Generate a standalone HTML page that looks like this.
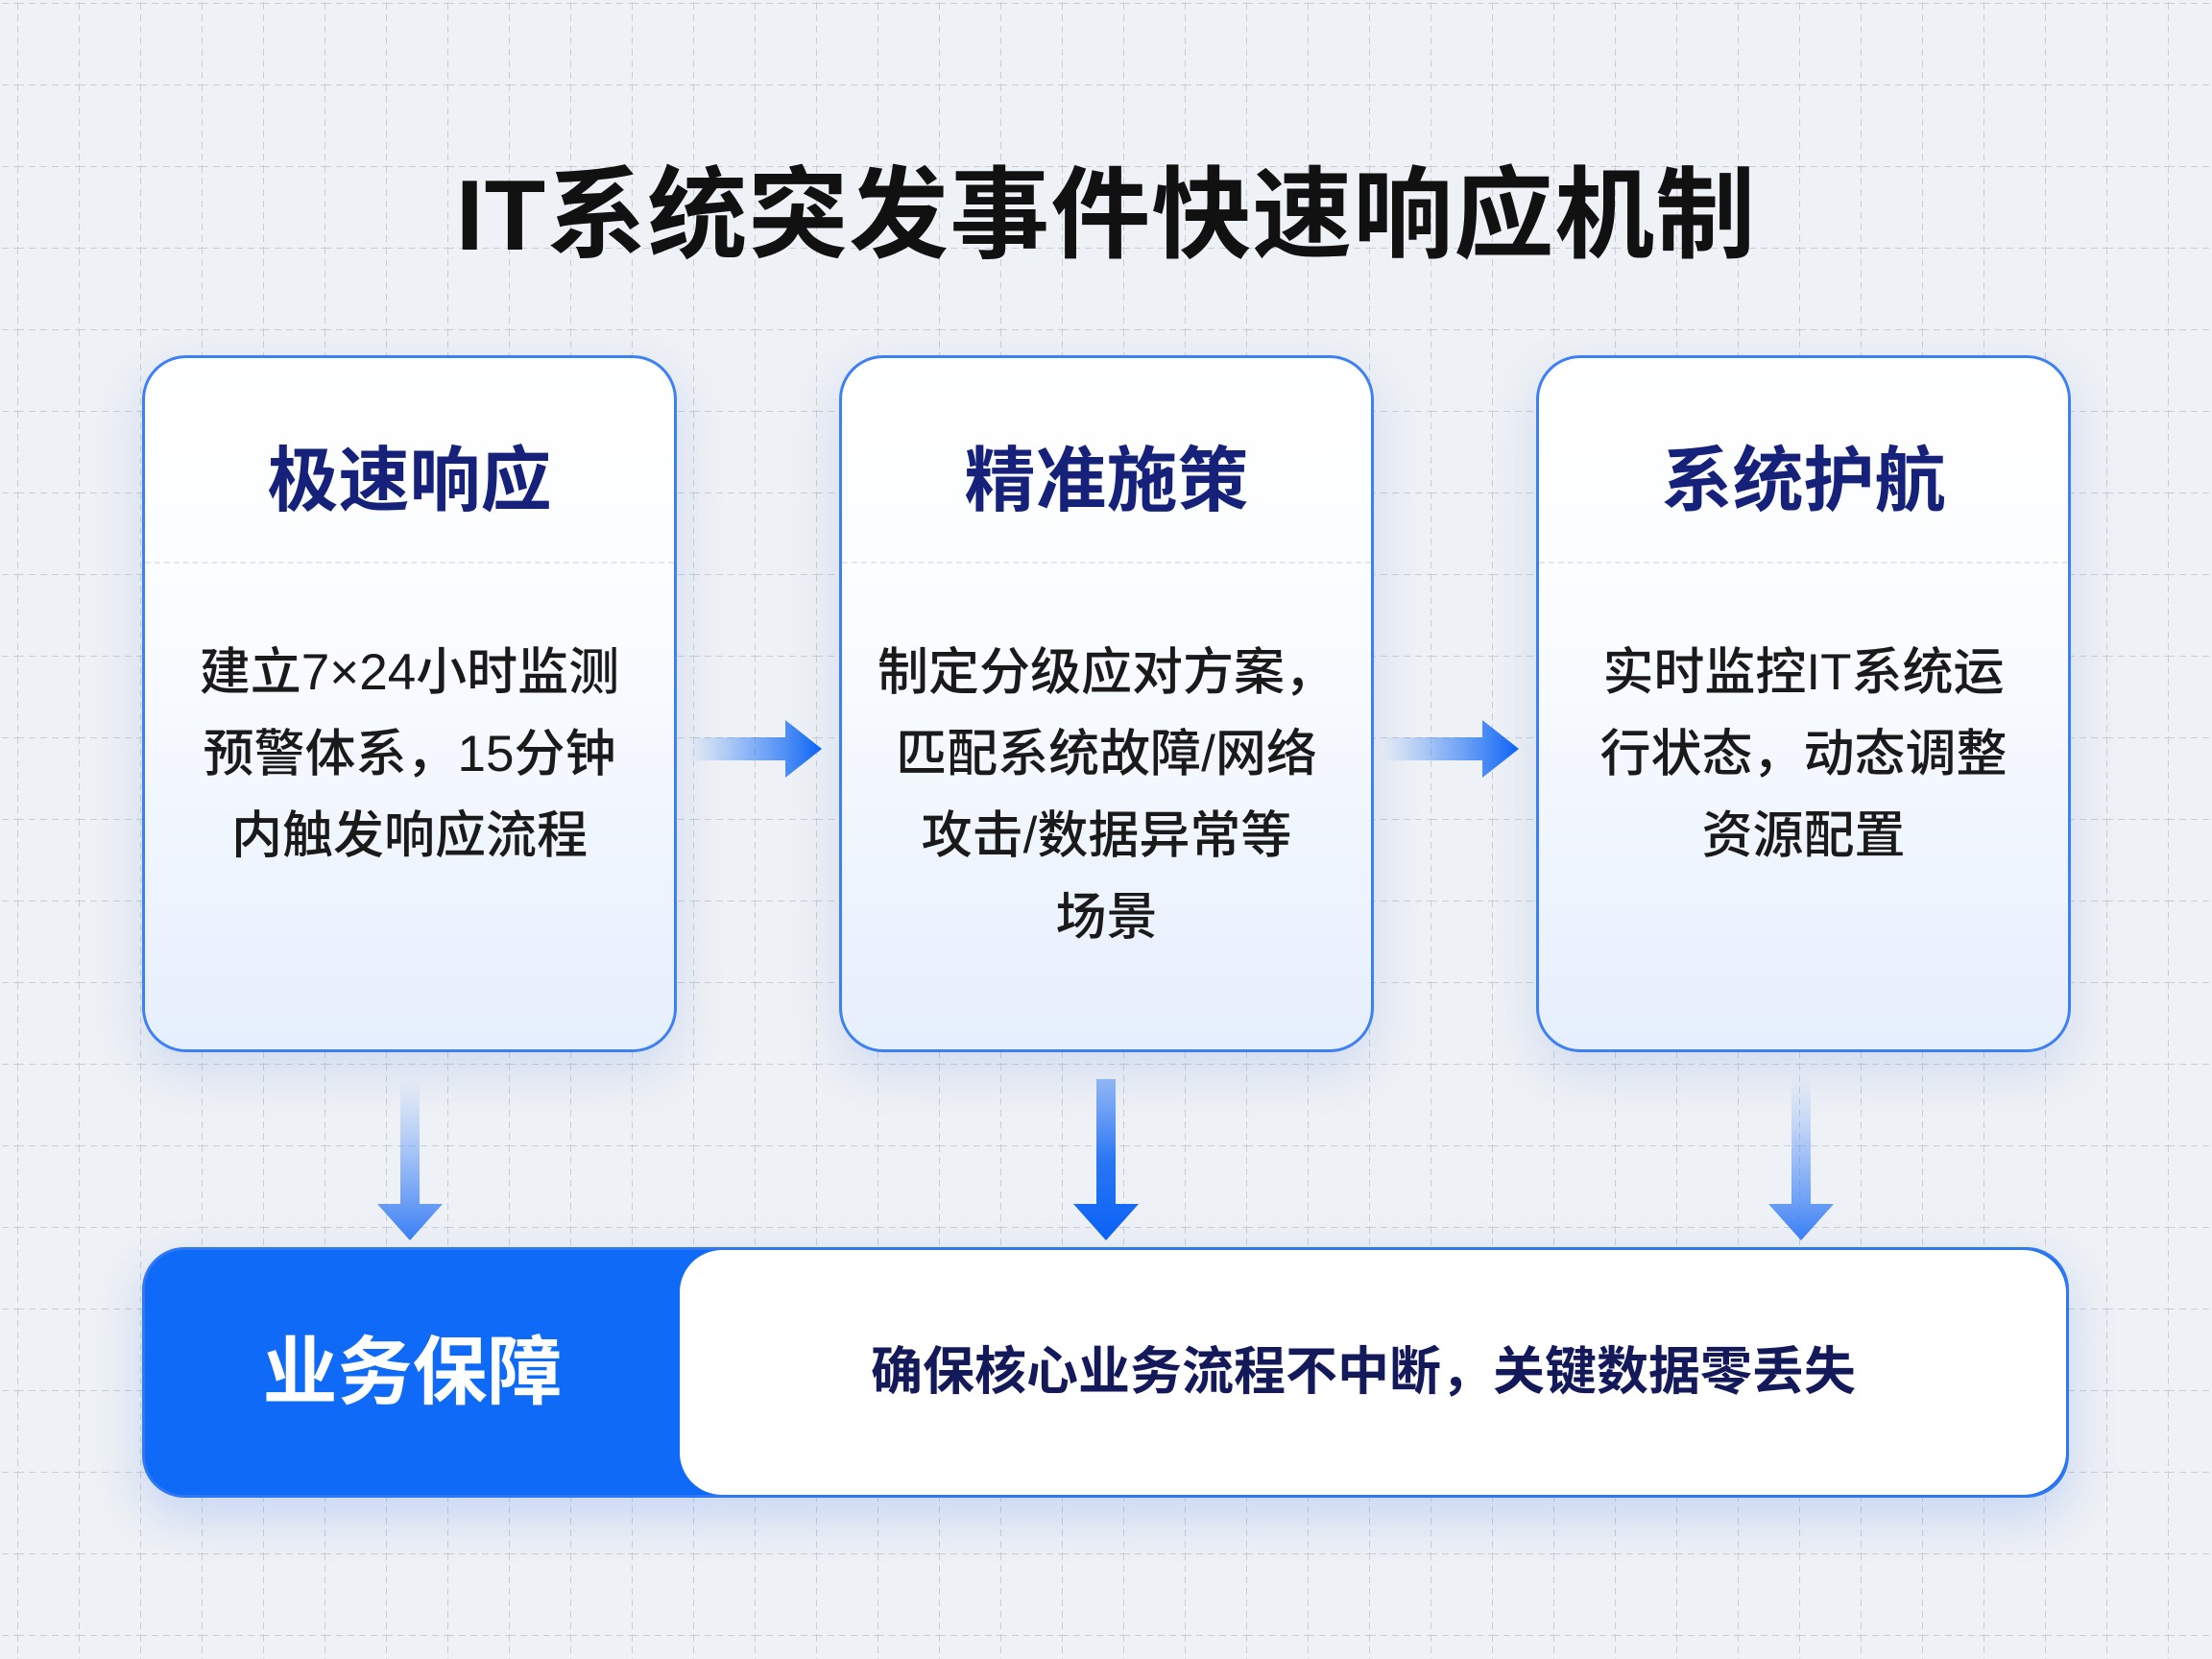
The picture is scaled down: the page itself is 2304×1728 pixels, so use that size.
<!DOCTYPE html>
<html><head><meta charset="utf-8">
<style>
*{margin:0;padding:0;box-sizing:border-box}
body{width:2304px;height:1728px;overflow:hidden;position:relative;background:#eef1f5;font-family:"Liberation Sans","Noto Sans CJK SC",sans-serif}
.t{position:absolute;left:0;width:2304px;top:160px;text-align:center;font-size:104px;font-weight:bold;color:#111;line-height:130px;letter-spacing:1px}
.card{position:absolute;top:370px;width:557px;height:726px;border:3px solid #3d7ff5;border-radius:46px;background:linear-gradient(#ffffff 0%,#fafcff 40%,#e6effd 100%);box-shadow:0 20px 50px rgba(80,130,230,.18)}
.card h2{position:absolute;top:78px;left:0;width:100%;text-align:center;font-size:74px;line-height:100px;color:#16217a;font-weight:bold}
.card .dv{position:absolute;top:212px;left:0;width:100%;border-top:2px dashed #e3e7ee}
.card p{position:absolute;top:285px;left:0;width:100%;text-align:center;font-size:53px;line-height:85px;color:#1a1a1a;font-weight:500}
.bar{position:absolute;left:148px;top:1299px;width:2007px;height:261px;border-radius:44px;background:#0e6af7;border:3px solid #2f78f3;box-shadow:0 20px 50px rgba(60,120,240,.22)}
.bar .w{position:absolute;left:557px;top:0;right:0;bottom:0;background:#fff;border-radius:44px}
.bar .l{position:absolute;left:0;width:557px;top:0;line-height:255px;text-align:center;color:#fff;font-size:78px;font-weight:bold}
.bar .r{position:absolute;left:557px;right:0;top:0;line-height:255px;text-align:center;color:#14195a;font-size:54px;font-weight:bold;padding-right:20px}
</style></head><body>
<svg width="2304" height="1728" style="position:absolute;left:0;top:0">
<defs><pattern id="gp" x="18" y="3" width="64" height="85" patternUnits="userSpaceOnUse">
<path d="M0 0 V85" stroke="#c9ced6" stroke-width="2" stroke-dasharray="7 5"/>
<path d="M0 0 H64" stroke="#c9ced6" stroke-width="2" stroke-dasharray="7 5"/>
</pattern></defs>
<rect width="2304" height="1728" fill="url(#gp)"/>
</svg>
<div class="t">IT系统突发事件快速响应机制</div>

<div class="card" style="left:148px"><h2>极速响应</h2><div class="dv"></div><p>建立7×24小时监测<br>预警体系，15分钟<br>内触发响应流程</p></div>
<div class="card" style="left:874px"><h2>精准施策</h2><div class="dv"></div><p>制定分级应对方案，<br>匹配系统故障/网络<br>攻击/数据异常等<br>场景</p></div>
<div class="card" style="left:1600px"><h2>系统护航</h2><div class="dv"></div><p>实时监控IT系统运<br>行状态，动态调整<br>资源配置</p></div>

<svg width="2304" height="1728" style="position:absolute;left:0;top:0">
<defs>
<linearGradient id="gh" x1="0" x2="1" y1="0" y2="0"><stop offset="0" stop-color="#2f7bf5" stop-opacity="0"/><stop offset="0.7" stop-color="#2f7bf5" stop-opacity=".8"/><stop offset="1" stop-color="#0a62f5"/></linearGradient>
<linearGradient id="gv" x1="0" x2="0" y1="0" y2="1"><stop offset="0" stop-color="#5b95f7" stop-opacity="0"/><stop offset="1" stop-color="#3b80f5"/></linearGradient>
<linearGradient id="gv2" x1="0" x2="0" y1="0" y2="1"><stop offset="0" stop-color="#3b80f5" stop-opacity=".5"/><stop offset="0.5" stop-color="#2a76f5"/><stop offset="1" stop-color="#0a62f5"/></linearGradient>
</defs>
<g fill="url(#gh)">
<path d="M717 768 H818 V750 L856 780 L818 810 V792 H717 Z"/>
<path d="M1440 768 H1544 V750 L1582 780 L1544 810 V792 H1440 Z"/>
</g>
<g fill="url(#gv)">
<path d="M417 1124 H437 V1254 H461 L427 1292 L393 1254 H417 Z"/>
<path d="M1142 1124 H1162 V1254 H1186 L1152 1292 L1118 1254 H1142 Z" fill="url(#gv2)"/>
<path d="M1866 1124 H1886 V1254 H1910 L1876 1292 L1842 1254 H1866 Z"/>
</g>
</svg>

<div class="bar"><div class="w"></div><div class="l">业务保障</div><div class="r">确保核心业务流程不中断，关键数据零丢失</div></div>
</body></html>
